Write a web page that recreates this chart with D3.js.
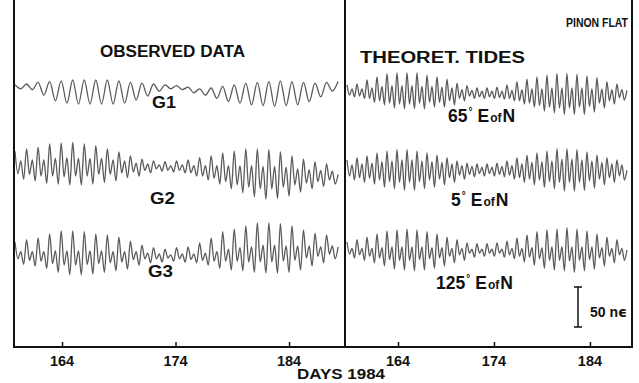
<!DOCTYPE html>
<html>
<head>
<meta charset="utf-8">
<script src="https://cdn.jsdelivr.net/npm/d3@7"></script>
<style>
  body { margin: 0; background: #fff; }
  text { font-family: "Liberation Sans", Arial, sans-serif; font-weight: bold; fill: #111; }
</style>
</head>
<body>
<div id="chart"></div>
<script>
// tick labels (day of year 1984)
const dayTicks = [164, 174, 184];

// strain traces, in n-strain, successive extremes
const g1 = [9,4, 10,3, 12,-4, 13,-11, 14,-14, 15,-15, 15,-15, 15,-15, 15,-15, 14,-14,
  12,-10, 11,-5, 10,1, 9,4, 8,3, 6,-1, 4,-4, 5,-8, 7,-12, 9,-14,
  11,-16, 12,-17, 13,-18, 14,-17, 13,-16, 12,-12, 11,-6, 12,1, 13];

const g2 = [21,-7,9,-14, 24,-8,10,-16, 26,-10,10,-19, 30,-10,12,-20, 31,-11,13,-21,
  32,-10,12,-21, 30,-10,12,-20, 28,-8,12,-18, 24,-8,10,-16, 20,-6,9,-12,
  15,-5,6,-10, 11,-3,5,-6, 9,-1,4,-4, 8,-3,3,-5, 9,-3,4,-6,
  10,-6,3,-10, 13,-10,3,-15, 15,-13,3,-20, 19,-17,3,-26, 21,-21,3,-31,
  24,-24,3,-36, 24,-26,2,-39, 23,-26,2,-38, 20,-24,1,-35, 15,-21,-1,-30,
  11,-19,-2,-26, 8,-17,-3,-23, 5,-15,-4,-20, -8];

const g3 = [10,-11,-2,-18, 13,-13,-2,-20, 15,-14,-2,-23, 20,-17,-1,-28, 24,-19,-1,-31,
  24,-19,-1,-31, 23,-18,-1,-30, 20,-17,-1,-28, 19,-16,-2,-26, 16,-15,-2,-24,
  11,-12,-2,-19, 6,-11,-4,-16, 3,-11,-5,-15, 1,-10,-6,-14, 3,-11,-5,-15,
  4,-12,-5,-16, 9,-13,-4,-19, 15,-14,-2,-23, 23,-14,1,-25, 26,-14,3,-26,
  30,-15,4,-28, 34,-15,6,-29, 34,-15,6,-29, 33,-14,5,-28, 30,-13,5,-25,
  25,-10,5,-20, 21,-8,4,-16, 19,-5,5,-11, 4];

const tide65 = [9,-4,4,-6, 10,-5,4,-8, 15,-8,5,-13, 19,-11,7,-16, 23,-14,8,-20,
  24,-15,8,-21, 24,-15,8,-21, 24,-14,7,-21, 21,-13,7,-19, 19,-13,6,-19,
  16,-11,5,-16, 11,-8,3,-11, 8,-5,2,-8, 5,-6,1,-8, 5,-6,1,-8,
  6,-7,1,-9, 9,-8,2,-11, 13,-11,3,-15, 16,-14,4,-19, 19,-17,4,-24,
  21,-19,5,-26, 23,-20,5,-28, 23,-20,5,-28, 22,-19,5,-28, 20,-18,4,-25,
  18,-14,4,-20, 13,-11,3,-15, 10,-7,3,-10, 2];

const tide5 = [10,-10,4,-15, 13,-12,5,-18, 15,-13,6,-20, 19,-15,8,-24, 21,-17,9,-26,
  23,-18,10,-28, 23,-18,10,-28, 21,-17,9,-26, 19,-15,8,-24, 16,-14,7,-21,
  13,-12,5,-18, 9,-9,3,-14, 6,-8,2,-11, 5,-7,1,-10, 5,-7,1,-10,
  6,-8,2,-11, 9,-9,3,-14, 13,-12,5,-18, 16,-14,7,-21, 19,-15,8,-24,
  21,-17,9,-26, 24,-18,11,-29, 24,-18,11,-29, 23,-18,10,-28, 20,-16,9,-25,
  16,-14,7,-21, 13,-12,5,-18, 10,-10,4,-15, -3];

const tide125 = [10,-5,2,-10, 13,-6,2,-13, 16,-8,2,-16, 20,-10,3,-20, 24,-12,4,-24,
  25,-13,4,-25, 26,-13,4,-26, 25,-12,4,-25, 23,-11,3,-23, 20,-10,3,-20,
  16,-8,2,-16, 13,-6,2,-13, 9,-4,1,-9, 8,-4,1,-8, 8,-4,1,-8,
  9,-4,1,-9, 11,-6,2,-11, 15,-8,2,-15, 19,-9,3,-19, 23,-11,3,-23,
  25,-13,4,-25, 26,-13,4,-26, 28,-14,4,-28, 26,-13,4,-26, 24,-12,4,-24,
  20,-10,3,-20, 16,-8,2,-16, 13,-6,2,-13, 0];

const scaleBarValue = 50;

const width = 639, height = 383;
const frame = { left: 14, mid: 345, right: 632, top: 0, bottom: 347 };
const pxPerUnit = 0.8;

const svg = d3.select('#chart').append('svg')
  .attr('width', width)
  .attr('height', height);

svg.append('rect').attr('width', width).attr('height', height).attr('fill', '#fff');

// two panels, each has its own time scale
const xLeft = d3.scaleLinear().domain([159.77, 188.93]).range([frame.left, frame.mid]);
const xRight = d3.scaleLinear().domain([158.48, 188.38]).range([frame.mid, frame.right]);

const traces = [
  { data: g1, x: xLeft, span: [159.86, 188.32], base: 92 },
  { data: g2, x: xLeft, span: [159.86, 188.32], base: 168 },
  { data: g3, x: xLeft, span: [159.86, 188.32], base: 250 },
  { data: tide65, x: xRight, span: [158.69, 187.85], base: 92 },
  { data: tide5, x: xRight, span: [158.69, 187.85], base: 168 },
  { data: tide125, x: xRight, span: [158.69, 187.85], base: 250 },
];

traces.forEach(tr => {
  const n = tr.data.length;
  const t = d3.scaleLinear().domain([0, n - 1]).range(tr.span);
  const y = d3.scaleLinear().domain([0, 1]).range([tr.base, tr.base - pxPerUnit]);
  const line = d3.line()
    .x((d, i) => tr.x(t(i)))
    .y(d => y(d))
    .curve(d3.curveMonotoneX);
  svg.append('path')
    .datum(tr.data)
    .attr('d', line)
    .attr('fill', 'none')
    .attr('stroke', '#5a5a5a')
    .attr('stroke-width', 1.3);
});

// frame
const fr = svg.append('g').attr('stroke', '#111').attr('stroke-width', 2);
[frame.left, frame.mid, frame.right].forEach(x => {
  fr.append('line').attr('x1', x).attr('x2', x).attr('y1', frame.top).attr('y2', frame.bottom);
});
fr.append('line').attr('x1', frame.left - 1).attr('x2', frame.right + 1)
  .attr('y1', frame.bottom).attr('y2', frame.bottom);

// axes
[xLeft, xRight].forEach(x => {
  const ax = svg.append('g')
    .attr('transform', `translate(0,${frame.bottom})`)
    .call(d3.axisTop(x).tickValues(dayTicks).tickSize(5).tickFormat(''));
  ax.select('.domain').remove();
  ax.selectAll('line').attr('stroke', '#111').attr('stroke-width', 1.5);
  svg.append('g').selectAll('text')
    .data(dayTicks)
    .join('text')
    .attr('x', d => x(d))
    .attr('y', 366)
    .attr('text-anchor', 'middle')
    .attr('font-size', 14.5)
    .text(d => d);
});

const label = (txt, x, y, size, len) => {
  const el = svg.append('text').attr('x', x).attr('y', y).attr('font-size', size).text(txt);
  if (len) el.attr('textLength', len).attr('lengthAdjust', 'spacingAndGlyphs');
  return el;
};

label('DAYS 1984', 297, 379, 14.5, 88);

// titles and trace labels
label('OBSERVED DATA', 100, 57, 16, 145);
label('THEORET. TIDES', 360, 63, 16, 165);
label('PINON FLAT', 566, 27, 12, 62);

label('G1', 152, 108, 17, 24);
label('G2', 150, 204, 17, 25);
label('G3', 148, 277, 17, 25);

const azLabels = [
  { deg: '65', x: 448, y: 122 },
  { deg: '5', x: 451, y: 206 },
  { deg: '125', x: 436, y: 289 },
];
azLabels.forEach(l => {
  const tx = svg.append('text').attr('x', l.x).attr('y', l.y).attr('font-size', 17.5);
  tx.append('tspan').text(l.deg);
  tx.append('tspan').attr('font-size', 10).attr('dy', -7).attr('dx', 1).text('°');
  tx.append('tspan').attr('dy', 7).attr('dx', 5).text('E');
  tx.append('tspan').attr('font-size', 12).attr('dx', 1).text('of');
  tx.append('tspan').attr('dx', 1).text('N');
});

// scale bar
const barX = 578, barBottom = 327;
const barTop = barBottom - scaleBarValue * pxPerUnit;
const sb = svg.append('g').attr('stroke', '#111').attr('stroke-width', 1.5);
sb.append('line').attr('x1', barX).attr('x2', barX).attr('y1', barTop).attr('y2', barBottom);
sb.append('line').attr('x1', barX - 4).attr('x2', barX + 4).attr('y1', barTop).attr('y2', barTop);
sb.append('line').attr('x1', barX - 4).attr('x2', barX + 4).attr('y1', barBottom).attr('y2', barBottom);
const sbt = svg.append('text').attr('x', 590).attr('y', 317).attr('font-size', 14);
sbt.append('tspan').text(scaleBarValue + ' n');
sbt.append('tspan').style('font-family', '"DejaVu Sans", sans-serif').text('ϵ');
</script>
</body>
</html>
